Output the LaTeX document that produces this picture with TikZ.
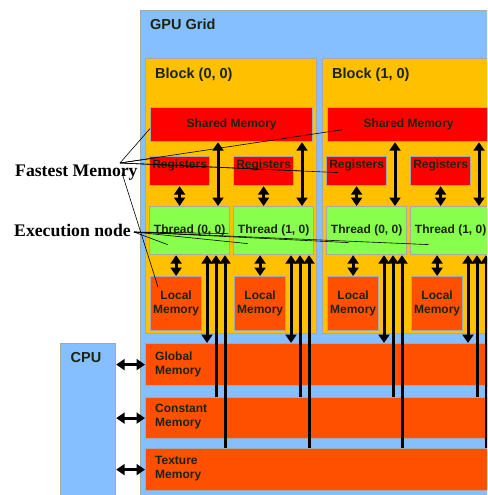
\documentclass[tikz,border=0pt]{standalone}
\usepackage{fontspec}
\usepackage{xcolor}
\usepackage{tikz}
\usetikzlibrary{arrows.meta}
\newfontfamily\boxfont{Liberation Sans}
\newfontfamily\notefont{Liberation Serif}
\definecolor{gridblue}{HTML}{85BFFF}
\definecolor{blockyellow}{HTML}{FFC000}
\definecolor{fastred}{HTML}{FF0000}
\definecolor{threadgreen}{HTML}{88FF4C}
\definecolor{slowred}{HTML}{FF5000}
\definecolor{edge}{HTML}{A8A8A8}
\definecolor{ink}{HTML}{1C2410}
\tikzset{
  area/.style={draw=edge, line width=1.2pt, inner sep=0pt, anchor=north west},
  lbl/.style={text=ink, font=\boxfont\bfseries\fontsize{12}{14}\selectfont, inner sep=0pt, align=center},
  biglbl/.style={lbl, font=\boxfont\bfseries\fontsize{14.5}{17}\selectfont},
  note/.style={font=\notefont\bfseries\fontsize{17.7}{20}\selectfont, inner sep=0pt},
  link/.style={draw=black, line width=3pt, {Triangle[width=11pt,length=8.5pt]}-{Triangle[width=11pt,length=8.5pt]}},
  uplink/.style={draw=black, line width=3pt, -{Triangle[width=11pt,length=8.5pt]}},
  pointer/.style={draw=black, line width=0.6pt},
}

\begin{document}
\begin{tikzpicture}[x=1pt, y=-1pt]
  \useasboundingbox (0,0) rectangle (487,495);
  \clip (0,0) rectangle (487,495);
  \fill[white] (0,0) rectangle (487,495);

  % grid and host
  \node[area, fill=gridblue, minimum width=380, minimum height=490] (grid) at (140,10) {};
  \node[biglbl, anchor=base west] at (150,30) {GPU Grid};
  \node[area, fill=gridblue, minimum width=55, minimum height=160] (cpu) at (60,343) {};
  \node[biglbl, anchor=base] at (86,362) {CPU};

  % device memories
  \node[area, fill=slowred, minimum width=380, minimum height=42] (glob) at (145,343) {};
  \node[lbl, anchor=north west, align=left] at (155,351.5) {Global\\Memory};
  \node[area, fill=slowred, minimum width=380, minimum height=41] (const) at (145,397) {};
  \node[lbl, anchor=north west, align=left] at (155,404) {Constant\\Memory};
  \node[area, fill=slowred, minimum width=380, minimum height=42] (tex) at (145,448) {};
  \node[lbl, anchor=north west, align=left] at (155,456) {Texture\\Memory};

  % blocks with their threads
  \foreach \b in {0,1} {
    \pgfmathsetmacro{\ox}{177*\b}
    \node[area, fill=blockyellow, minimum width=171, minimum height=275] (blk\b) at (145+\ox,58) {};
    \node[biglbl, anchor=base west] at (155+\ox,78) {Block (\b, 0)};
    \node[area, fill=fastred, minimum width=162, minimum height=34] (sh\b) at (150+\ox,107) {};
    \node[lbl] at (sh\b) {Shared Memory};
    \foreach \t in {0,1} {
      \pgfmathsetmacro{\tx}{\ox+84*\t}
      \node[area, fill=fastred, minimum width=60, minimum height=29] (reg\b\t) at (149+\tx,156) {};
      \node[lbl, anchor=base] at ([yshift=2.5]reg\b\t.center) {Registers};
      \node[area, fill=threadgreen, minimum width=80, minimum height=48] (thr\b\t) at (149+\tx,206) {};
      \node[lbl] at (thr\b\t) {Thread (\t, 0)};
      \node[area, fill=slowred, minimum width=51, minimum height=54] (loc\b\t) at (150+\tx,276) {};
      \node[lbl] at (loc\b\t) {Local\\Memory};
    }
  }

  % data paths
  \foreach \b in {0,1} {
    \foreach \t in {0,1} {
      \coordinate (s\b\t) at ([xshift=69]thr\b\t.north west);
      \draw[link] (s\b\t |- sh\b.south) -- (s\b\t);
      \draw[link] (reg\b\t.south) -- (reg\b\t.south |- thr\b\t.north);
      \draw[link] (thr\b\t.south -| loc\b\t.north) -- (loc\b\t.north);
      \coordinate (g\b\t) at ([xshift=58]thr\b\t.south west);
      \coordinate (c\b\t) at ([xshift=67]thr\b\t.south west);
      \coordinate (x\b\t) at ([xshift=76]thr\b\t.south west);
      \draw[link] (g\b\t) -- (g\b\t |- glob.north);
      \draw[uplink] (c\b\t |- const.north) -- (c\b\t);
      \draw[uplink] (x\b\t |- tex.north) -- (x\b\t);
    }
  }
  \draw[link] (cpu.east |- glob.west) -- (glob.west);
  \draw[link] (cpu.east |- const.west) -- (const.west);
  \draw[link] (cpu.east |- tex.west) -- (tex.west);

  % annotations
  \node[note, anchor=base west] (fast) at (15,176) {Fastest Memory};
  \node[note, anchor=base west] (exec) at (14,236) {Execution node};
  \coordinate (fastpt) at (120,163);
  \coordinate (fastlow) at (122,173);
  \coordinate (execpt) at (134,232);
  \draw[pointer] (fastpt) -- ([yshift=-4]sh0.west);
  \draw[pointer] (fastpt) -- ([xshift=16,yshift=-5]sh1.west);
  \draw[pointer] (fastpt) -- ([xshift=6,yshift=-2]reg00.north west);
  \draw[pointer] (fastpt) -- ([xshift=10]reg01.east);
  \draw[pointer] (fastpt) -- ([xshift=12,yshift=-1.5]reg10.west);
  \draw[pointer] (fastlow) -- ([xshift=8,yshift=-11]loc00.north west);
  \draw[pointer] (execpt) -- ([xshift=-2,yshift=-3]thr00.east);
  \draw[pointer] (execpt) -- ([xshift=-22,yshift=-14]thr00.center);
  \draw[pointer] (execpt) -- ([xshift=-26,yshift=-13]thr01.center);
  \draw[pointer] (execpt) -- ([xshift=-18,yshift=-12]thr10.center);
  \draw[pointer] (execpt) -- ([xshift=-22,yshift=-14]thr11.center);
\end{tikzpicture}
\end{document}
